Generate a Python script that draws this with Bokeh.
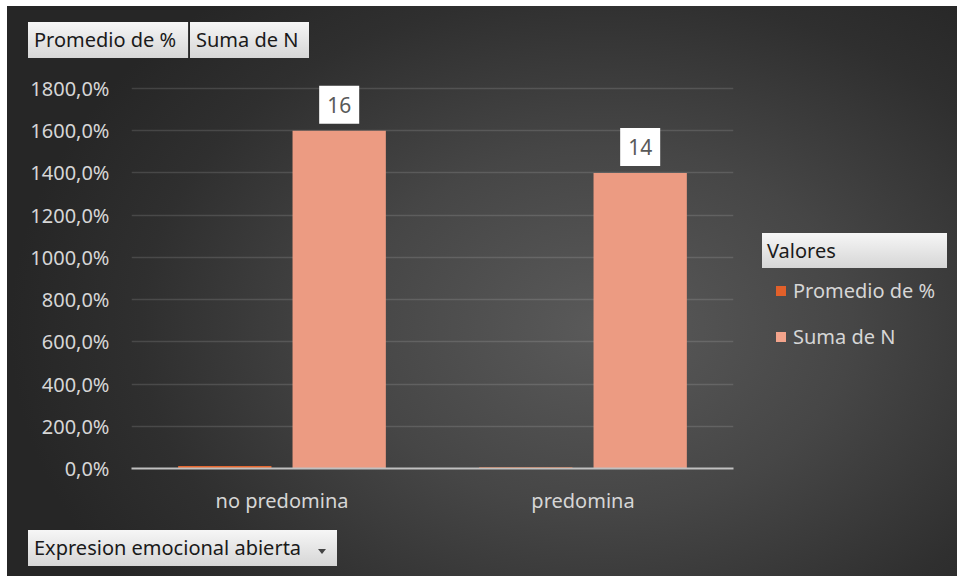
from bokeh.plotting import figure
from bokeh.models import (ColumnDataSource, Range1d, FixedTicker, CustomJSTickFormatter, Div)
from bokeh.layouts import column, row
from bokeh.transform import dodge
from bokeh.core.properties import value
from bokeh.embed import file_html
from bokeh.resources import INLINE

# ---- data ----
categories = ["no predomina", "predomina"]
promedio_pct = [0.12, 0.06]       # Promedio de % (fraction, shown as %)
suma_n = [16, 14]                 # Suma de N
y_ticks = [0, 2, 4, 6, 8, 10, 12, 14, 16, 18]
series_names = ["Promedio de %", "Suma de N"]
series_colors = ["#e3662f", "#ec9b82"]
legend_swatch = ["#e2602a", "#f3a48c"]
field_label = "Expresion emocional abierta"
legend_title = "Valores"

FONT = "Noto Sans"
TOTAL_W = 957

src = ColumnDataSource(dict(cat=categories, prom=promedio_pct, suma=suma_n,
                            suma_lbl=[str(v) for v in suma_n]))

p = figure(width=749, height=448, x_range=categories, y_range=Range1d(0, 18.19),
           output_backend="svg", toolbar_location=None,
           min_border_left=131, min_border_right=16,
           min_border_top=14, min_border_bottom=50)
p.title.visible = False
p.border_fill_alpha = 0
p.background_fill_alpha = 0
p.outline_line_color = None

# grid
p.xgrid.grid_line_color = None
p.ygrid.ticker = FixedTicker(ticks=y_ticks)
p.ygrid.grid_line_color = "#ffffff"
p.ygrid.grid_line_alpha = 0.13
p.ygrid.grid_line_width = 1.3

# y axis
p.yaxis.ticker = FixedTicker(ticks=y_ticks)
p.yaxis.formatter = CustomJSTickFormatter(
    code="return (tick*100).toFixed(1).replace('.', ',') + '%';")
p.yaxis.axis_line_color = None
p.yaxis.major_tick_line_color = None
p.yaxis.minor_tick_line_color = None
p.yaxis.major_tick_in = 0
p.yaxis.major_tick_out = 0
p.yaxis.major_label_standoff = 22
p.yaxis.major_label_text_color = "#d6d6d6"
p.yaxis.major_label_text_font = FONT
p.yaxis.major_label_text_font_size = "20px"

# x axis
p.xaxis.axis_line_color = "#c0c0c0"
p.xaxis.axis_line_width = 2
p.xaxis.major_tick_line_color = None
p.xaxis.major_tick_in = 0
p.xaxis.major_tick_out = 0
p.xaxis.major_label_standoff = 18
p.xaxis.major_label_text_color = "#d6d6d6"
p.xaxis.major_label_text_font = FONT
p.xaxis.major_label_text_font_size = "20px"

# bars
p.vbar(x=dodge("cat", -0.19, range=p.x_range), top="prom", width=0.31,
       source=src, fill_color=series_colors[0], line_color=None)
p.vbar(x=dodge("cat", 0.19, range=p.x_range), top="suma", width=0.31,
       source=src, fill_color=series_colors[1], line_color=None)

# data labels
p.text(x=dodge("cat", 0.19, range=p.x_range), y="suma", text="suma_lbl", source=src,
       text_align="center", text_baseline="bottom", y_offset=-7,
       text_font=value(FONT), text_font_size="21px", text_color="#595959",
       background_fill_color="#ffffff",
       padding=dict(left=8, right=8, top=11, bottom=11))

# ---- pivot field buttons and legend (HTML) ----
BTN_BG = "linear-gradient(#f6f6f6, #d6d6d6)"


def btn(left, top, w, h, label, extra=""):
    return (f'<div style="position:absolute;left:{left}px;top:{top}px;width:{w}px;height:{h}px;'
            f'background:{BTN_BG};box-sizing:border-box;padding-left:6px;line-height:{h}px;'
            f"font-family:'{FONT}';font-size:20px;color:#1a1a1a;white-space:nowrap;{extra}\">"
            f'{label}</div>')


def wrap(w, h, inner):
    return f'<div style="position:relative;width:{w}px;height:{h}px;">{inner}</div>'


top_div = Div(width=TOTAL_W, height=70, margin=(0, 0, 0, 0),
              text=wrap(TOTAL_W, 70,
                        btn(28, 22, 161, 36, series_names[0], "border-right:1px solid #3a3a3a;")
                        + btn(190, 22, 119, 36, series_names[1])))

arrow = ('<div style="position:absolute;left:318px;top:31px;width:0;height:0;'
         'border-left:4px solid transparent;border-right:4px solid transparent;'
         'border-top:5px solid #444;"></div>')
bottom_div = Div(width=TOTAL_W, height=58, margin=(0, 0, 0, 0),
                 text=wrap(TOTAL_W, 58, btn(28, 12, 309, 36, field_label) + arrow))


def legend_entry(top, color, label):
    return (f'<div style="position:absolute;left:27px;top:{top + 7}px;width:10px;height:10px;'
            f'background:{color};"></div>'
            f'<div style="position:absolute;left:44px;top:{top}px;height:24px;line-height:24px;'
            f"font-family:'{FONT}';font-size:20px;color:#d6d6d6;white-space:nowrap;\">{label}</div>")


right_w = TOTAL_W - 749
right_div = Div(width=right_w, height=448, margin=(0, 0, 0, 0),
                text=wrap(right_w, 448,
                          btn(13, 163, 185, 35, legend_title, "padding-left:5px;")
                          + legend_entry(209, legend_swatch[0], series_names[0])
                          + legend_entry(255, legend_swatch[1], series_names[1])))

bg = ("linear-gradient(#ffffff, #ffffff) 0 0 / 100% 6px no-repeat, "
      "linear-gradient(#ffffff, #ffffff) 0 0 / 7px 100% no-repeat, "
      "radial-gradient(ellipse 62% 75% at 63% 57%, #5a5a5a 0%, #464646 42%, #2f2f2f 78%, #262626 100%)")

layout = column(top_div, row(p, right_div, spacing=0), bottom_div, spacing=0,
                styles={"background": bg})

open("out.html", "w").write(file_html(layout, INLINE))
